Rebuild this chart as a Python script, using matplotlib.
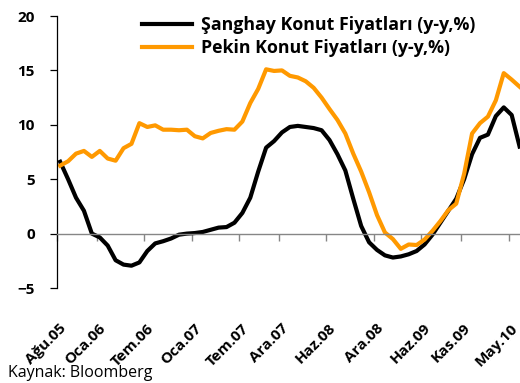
import matplotlib.pyplot as plt
from matplotlib.transforms import blended_transform_factory

plt.rcParams['font.family'] = ['Open Sans', 'DejaVu Sans']

# yillik degisim (%), aylik: Agu.05 - Haz.10
sanghay = [6.6, 5.0, 3.3, 2.1, 0.0, -0.35, -1.1, -2.45, -2.85, -2.95,
           -2.65, -1.6, -0.9, -0.7, -0.45, -0.1, 0.0, 0.05, 0.15, 0.35,
           0.55, 0.6, 1.0, 1.9, 3.3, 5.7, 7.9, 8.5, 9.3, 9.8,
           9.9, 9.8, 9.7, 9.5, 8.6, 7.3, 5.8, 3.2, 0.7, -0.8,
           -1.5, -2.0, -2.2, -2.1, -1.9, -1.6, -1.0, -0.1, 1.0, 2.1,
           3.2, 5.0, 7.3, 8.8, 9.1, 10.8, 11.6, 10.9, 8.0]
pekin = [6.25, 6.65, 7.35, 7.6, 7.05, 7.6, 6.9, 6.7, 7.85, 8.25,
         10.15, 9.8, 9.95, 9.55, 9.55, 9.5, 9.55, 8.95, 8.75, 9.25,
         9.45, 9.6, 9.55, 10.3, 12.0, 13.3, 15.1, 14.95, 15.0, 14.5,
         14.35, 14.0, 13.4, 12.5, 11.45, 10.45, 9.2, 7.35, 5.7, 3.8,
         1.7, 0.1, -0.5, -1.4, -1.0, -1.05, -0.55, 0.25, 1.15, 2.15,
         2.75, 5.5, 9.2, 10.15, 10.75, 12.25, 14.75, 14.15, 13.5]

etiket_ay = [0, 5, 11, 17, 23, 28, 34, 40, 46, 51, 57]
etiketler = ['Ağu.05', 'Oca.06', 'Tem.06', 'Oca.07', 'Tem.07', 'Ara.07',
             'Haz.08', 'Ara.08', 'Haz.09', 'Kas.09', 'May.10']

fig = plt.figure(figsize=(5.2, 3.83), dpi=100)
ax = fig.add_axes([57/520, 1-288/383, 1-57/520, 272/383])

x = list(range(len(sanghay)))
ax.plot(x, sanghay, color='black', lw=3.0, solid_joinstyle='round',
        label='Şanghay Konut Fiyatları (y-y,%)')
ax.plot(x, pekin, color='#FF9900', lw=3.0, solid_joinstyle='round',
        label='Pekin Konut Fiyatları (y-y,%)')

ax.set_xlim(-0.4, 58.05)
ax.set_ylim(-5, 20)
ax.set_yticks([-5, 0, 5, 10, 15, 20])

# eksenler: x ekseni sifirdan geciyor
ax.spines['top'].set_visible(False)
ax.spines['right'].set_visible(False)
ax.spines['left'].set_color('black')
ax.spines['left'].set_linewidth(0.9)
ax.spines['bottom'].set_position(('data', 0))
ax.spines['bottom'].set_color('#868686')
ax.spines['bottom'].set_linewidth(1.0)

ax.tick_params(axis='y', direction='out', length=5, width=0.9, pad=11,
               labelsize=11)
for t in ax.get_yticklabels():
    t.set_fontweight('bold')
ax.set_xticks([m - 0.4 for m in etiket_ay])
ax.tick_params(axis='x', direction='out', length=5, width=1.0,
               color='#868686', labelbottom=False)

# tarih etiketleri grafigin altinda
tr = blended_transform_factory(ax.transData, ax.transAxes)
for m, lab in zip(etiket_ay, etiketler):
    ax.text(m + 0.5, -0.14, lab, transform=tr, rotation=45,
            rotation_mode='anchor', ha='right', va='center',
            fontsize=11, fontweight='bold')

ax.legend(loc='upper left', bbox_to_anchor=(142/520, 1-16/383),
          bbox_transform=fig.transFigure, frameon=False,
          prop={'size': 12.8, 'weight': 'bold'}, handlelength=2.8,
          handletextpad=0.5, labelspacing=0.28, borderaxespad=0, borderpad=0)

fig.text(8/520, 1-373/383, 'Kaynak: Bloomberg', fontsize=11.5, va='center')

fig.savefig('out.png', dpi=100)
